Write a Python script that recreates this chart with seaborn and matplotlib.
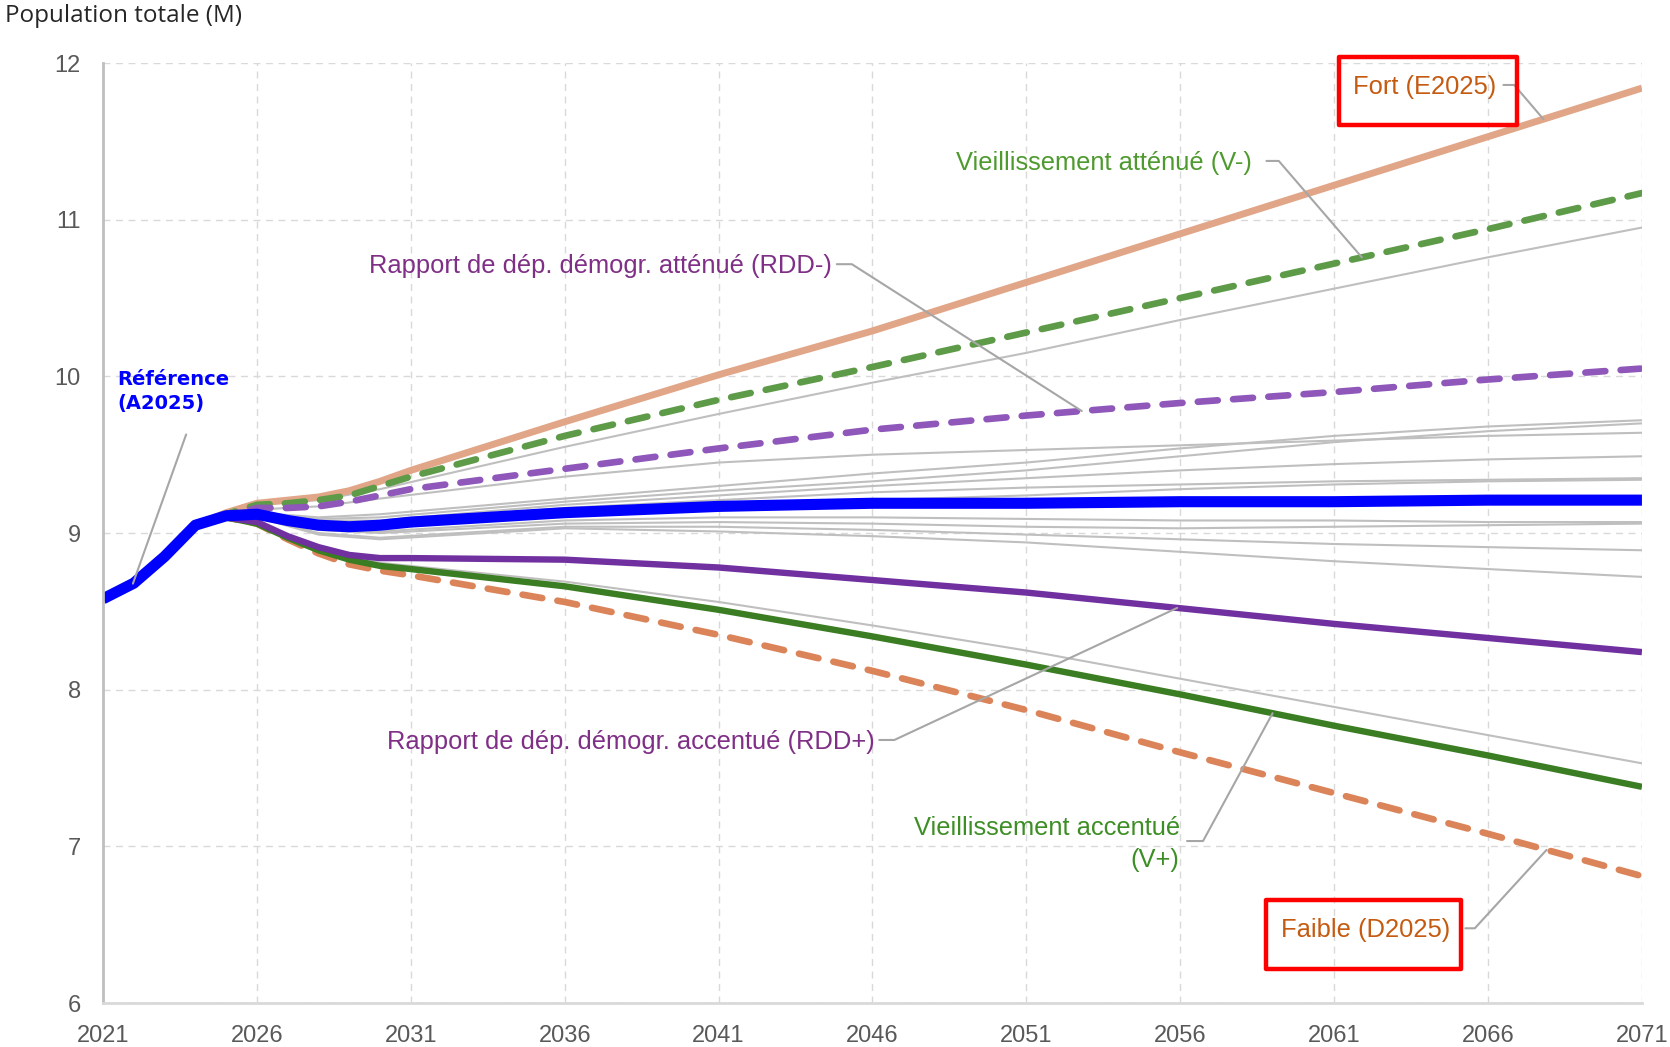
import numpy as np
import pandas as pd
import seaborn as sns
import matplotlib.pyplot as plt
import matplotlib.font_manager as fm
from matplotlib.patches import Rectangle

# --- données (population totale, millions) ---
annees = [2021, 2022, 2023, 2024, 2025, 2026, 2027, 2028, 2029, 2030, 2031,
          2036, 2041, 2046, 2051, 2056, 2061, 2066, 2071]
historique = [8.58, 8.68, 8.85, 9.05]

reference_a2025 = historique + [9.11, 9.12, 9.08, 9.05, 9.04, 9.05, 9.07,
                                9.13, 9.17, 9.19, 9.19, 9.20, 9.20, 9.21, 9.21]
fort_e2025 = historique + [9.13, 9.19, 9.21, 9.23, 9.27, 9.33, 9.40,
                           9.71, 10.01, 10.29, 10.60, 10.91, 11.22, 11.53, 11.84]
faible_d2025 = historique + [9.10, 9.06, 8.96, 8.87, 8.80, 8.76, 8.73,
                             8.56, 8.35, 8.12, 7.87, 7.60, 7.34, 7.08, 6.81]
vieil_attenue = historique + [9.12, 9.18, 9.19, 9.21, 9.24, 9.30, 9.36,
                              9.62, 9.85, 10.06, 10.28, 10.50, 10.72, 10.94, 11.17]
vieil_accentue = historique + [9.10, 9.06, 8.97, 8.89, 8.83, 8.79, 8.77,
                               8.66, 8.51, 8.34, 8.16, 7.97, 7.77, 7.58, 7.38]
rdd_attenue = historique + [9.11, 9.16, 9.16, 9.17, 9.20, 9.24, 9.28,
                            9.41, 9.54, 9.66, 9.75, 9.83, 9.90, 9.98, 10.05]
rdd_accentue = historique + [9.10, 9.07, 8.98, 8.91, 8.86, 8.84, 8.84,
                             8.83, 8.78, 8.70, 8.62, 8.52, 8.42, 8.33, 8.24]

# autres variantes (en gris)
annees_var = [2025, 2026, 2028, 2030, 2036, 2041, 2046, 2051, 2056, 2061, 2066, 2071]
variantes_grises = {
    "g1": [9.12, 9.18, 9.21, 9.28, 9.55, 9.76, 9.96, 10.15, 10.36, 10.56, 10.76, 10.95],
    "g2": [9.11, 9.15, 9.17, 9.22, 9.36, 9.45, 9.50, 9.53, 9.56, 9.59, 9.62, 9.64],
    "g3": [9.11, 9.13, 9.10, 9.12, 9.22, 9.30, 9.38, 9.45, 9.54, 9.62, 9.68, 9.72],
    "g4": [9.11, 9.13, 9.09, 9.10, 9.20, 9.27, 9.33, 9.40, 9.49, 9.58, 9.65, 9.70],
    "g5": [9.11, 9.12, 9.08, 9.08, 9.18, 9.24, 9.30, 9.35, 9.40, 9.44, 9.47, 9.49],
    "g6": [9.11, 9.12, 9.07, 9.07, 9.16, 9.21, 9.26, 9.29, 9.31, 9.33, 9.34, 9.35],
    "g7": [9.11, 9.12, 9.06, 9.06, 9.14, 9.18, 9.21, 9.24, 9.28, 9.31, 9.33, 9.34],
    "g8": [9.10, 9.11, 9.03, 9.01, 9.08, 9.10, 9.10, 9.09, 9.08, 9.08, 9.07, 9.07],
    "g9": [9.10, 9.11, 9.02, 9.00, 9.06, 9.07, 9.06, 9.04, 9.03, 9.04, 9.05, 9.06],
    "g10": [9.10, 9.10, 9.00, 8.97, 9.04, 9.04, 9.02, 8.99, 8.96, 8.93, 8.91, 8.89],
    "g11": [9.10, 9.10, 8.99, 8.96, 9.03, 9.01, 8.98, 8.94, 8.88, 8.82, 8.77, 8.72],
    "g12": [9.10, 9.07, 8.90, 8.81, 8.69, 8.56, 8.41, 8.25, 8.07, 7.89, 7.71, 7.53],
}

# --- style ---
sns.set_style("white")
noms = {f.name for f in fm.fontManager.ttflist}
police_etroite = "Liberation Sans Narrow" if "Liberation Sans Narrow" in noms else "Liberation Sans"
plt.rcParams["font.family"] = [police_etroite, "DejaVu Sans"]

GRIS = "#BFBFBF"
fig = plt.figure(figsize=(16.7, 10.47), dpi=100)
ax = fig.add_axes([0.0617, 0.042, 0.9215, 0.8978])

# variantes grises
df_gris = pd.DataFrame(
    [(nom, a, v) for nom, vals in variantes_grises.items() for a, v in zip(annees_var, vals)],
    columns=["variante", "annee", "pop"],
)
sns.lineplot(data=df_gris, x="annee", y="pop", units="variante", estimator=None,
             color=GRIS, linewidth=1.5, ax=ax, legend=False)

# scénarios principaux: (valeurs, couleur, épaisseur, pointillés)
TIRETS = (3.0, 2.3)
scenarios = [
    (fort_e2025, "#E1A587", 5.0, None),
    (faible_d2025, "#DB8459", 4.8, TIRETS),
    (vieil_accentue, "#3A7D22", 4.6, None),
    (rdd_accentue, "#7030A0", 4.6, None),
    (vieil_attenue, "#5E9B48", 4.8, TIRETS),
    (rdd_attenue, "#8E57B9", 4.8, TIRETS),
    (reference_a2025, "#0000FF", 8.0, None),
]
for vals, couleur, lw, tirets in scenarios:
    sns.lineplot(x=annees, y=vals, color=couleur, linewidth=lw, ax=ax)
    ligne = ax.lines[-1]
    ligne.set_solid_capstyle("butt")
    ligne.set_solid_joinstyle("round")
    if tirets is not None:
        ligne.set_dashes(tirets)
        ligne.set_dash_capstyle("round")

# axes
ax.set_xlim(2021, 2071)
ax.set_ylim(6, 12)
ax.set_xticks(range(2021, 2072, 5))
ax.set_yticks(range(6, 13))
ax.set_xlabel("")
ax.set_ylabel("")
ax.grid(True, color="#D9D9D9", linestyle=(0, (5, 4)), linewidth=1.0)
for cote in ["top", "right"]:
    ax.spines[cote].set_visible(False)
ax.spines["left"].set_color("#BFBFBF")
ax.spines["left"].set_linewidth(2)
ax.spines["bottom"].set_color("#D9D9D9")
ax.spines["bottom"].set_linewidth(2)
ax.tick_params(length=0, labelsize=17, colors="#595959")
ax.tick_params(axis="x", pad=16)
ax.tick_params(axis="y", pad=16)

fig.text(0.003, 0.985, "Population totale (M)", fontsize=17.5, color="#262626",
         family=["Open Sans", "DejaVu Sans"], ha="left", va="center")

# --- étiquettes et traits de rappel ---
TRAIT = "#A6A6A6"
TAILLE = 18.4


def rappel(points):
    xs, ys = zip(*points)
    ax.plot(xs, ys, color=TRAIT, linewidth=1.5, zorder=5, clip_on=False)


def sur_courbe(annee, vals):
    return (annee, float(np.interp(annee, annees, vals)))


ORANGE_TXT = "#C55A11"
VERT_TXT = "#4E9A2F"
VIOLET_TXT = "#7F2F86"

ax.text(2061.6, 11.85, "Fort (E2025)", color=ORANGE_TXT, fontsize=TAILLE, va="center", zorder=6)
rappel([(2066.5, 11.86), (2066.85, 11.86), sur_courbe(2067.8, fort_e2025)])
ax.add_patch(Rectangle((2061.17, 11.606), 5.78, 0.434, fill=False, edgecolor="#FF0000",
                       linewidth=3.2, joinstyle="round", clip_on=False, zorder=6))

ax.text(2048.7, 11.365, "Vieillissement atténué (V-)", color=VERT_TXT, fontsize=TAILLE,
        va="center", zorder=6)
rappel([(2058.8, 11.375), (2059.2, 11.375), sur_courbe(2061.9, vieil_attenue)])

ax.text(2029.65, 10.706, "Rapport de dép. démogr. atténué (RDD-)", color=VIOLET_TXT,
        fontsize=TAILLE, va="center", zorder=6)
rappel([(2044.84, 10.716), (2045.33, 10.716), sur_courbe(2052.8, rdd_attenue)])

ax.text(2021.45, 9.905, "Référence\n(A2025)", color="#0000FF", fontsize=14,
        fontweight="bold", family=["DejaVu Sans"], va="center", linespacing=1.35, zorder=6)
rappel([(2023.7, 9.629), sur_courbe(2021.97, reference_a2025)])

ax.text(2030.24, 7.669, "Rapport de dép. démogr. accentué (RDD+)", color=VIOLET_TXT,
        fontsize=TAILLE, va="center", zorder=6)
rappel([(2046.22, 7.679), (2046.71, 7.679), sur_courbe(2055.9, rdd_accentue)])

ax.text(2055.98, 7.014, "Vieillissement accentué\n(V+)", color="#3E8E26", fontsize=TAILLE,
        ha="right", va="center", multialignment="right", linespacing=1.4, zorder=6)
rappel([(2056.22, 7.034), (2056.74, 7.034), sur_courbe(2059.0, vieil_accentue)])

ax.text(2059.27, 6.467, "Faible (D2025)", color=ORANGE_TXT, fontsize=TAILLE, va="center", zorder=6)
rappel([(2065.26, 6.477), (2065.57, 6.477), sur_courbe(2067.9, faible_d2025)])
ax.add_patch(Rectangle((2058.79, 6.219), 6.33, 0.441, fill=False, edgecolor="#FF0000",
                       linewidth=3.2, joinstyle="round", clip_on=False, zorder=6))

fig.savefig("out.png", dpi=100)
